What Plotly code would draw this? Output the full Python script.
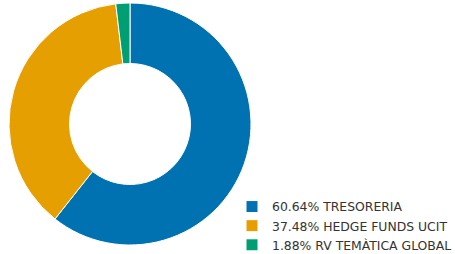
import plotly.graph_objects as go

names = ["TRESORERIA", "HEDGE FUNDS UCIT", "RV TEMÀTICA GLOBAL"]
values = [60.64, 37.48, 1.88]
colors = ["#0072B2", "#E69F00", "#009E73"]

labels = [f"{v:.2f}% {n}" for v, n in zip(values, names)]

fig = go.Figure(go.Pie(
    labels=labels,
    values=values,
    hole=0.5,
    sort=False,
    direction="clockwise",
    rotation=0,
    textinfo="none",
    hoverinfo="label",
    marker=dict(colors=colors, line=dict(color="white", width=1)),
    domain=dict(x=[9/455, 251/455], y=[1-245/254, 1-3/254]),
))

fig.update_layout(
    width=455, height=254,
    margin=dict(l=0, r=0, t=0, b=0, autoexpand=False),
    paper_bgcolor="white",
    plot_bgcolor="white",
    font=dict(family="DejaVu Sans", size=12.4, color="#333"),
    legend=dict(
        x=232/455, y=1-226/254, xanchor="left", yanchor="middle",
        bgcolor="rgba(0,0,0,0)",
        tracegroupgap=0,
        itemclick=False,
    ),
    showlegend=True,
)

fig.write_html("out.html", config={"displayModeBar": False},
               post_script="document.body.style.margin='0';")
